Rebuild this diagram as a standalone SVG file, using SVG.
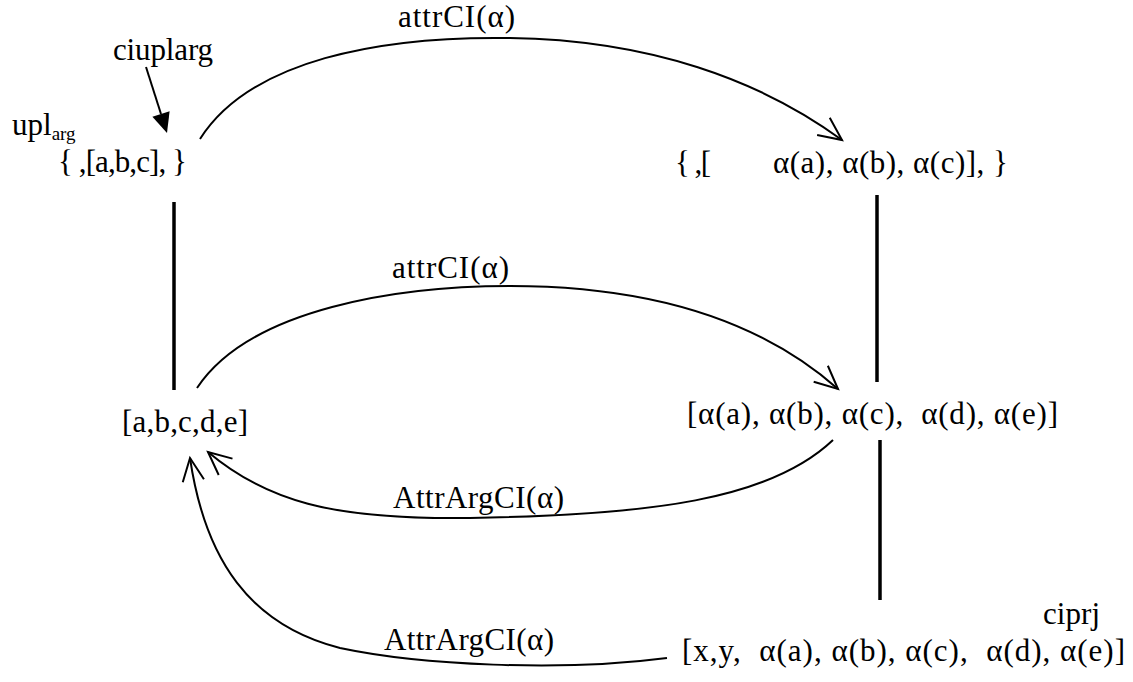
<svg xmlns="http://www.w3.org/2000/svg" width="1133" height="682" viewBox="0 0 1133 682">
<defs>
<style>
text{font-family:"Liberation Serif","Times New Roman",serif;font-size:31px;fill:#000;white-space:pre}
.sub{font-size:19px}
.bar{stroke:#000;stroke-width:3.5;fill:none}
.arc{stroke:#000;stroke-width:2;fill:none;marker-end:url(#open)}
</style>
<marker id="open" viewBox="-30 -15 34 30" markerWidth="34" markerHeight="30" markerUnits="userSpaceOnUse" refX="0" refY="0" orient="auto">
<path d="M-23,-10.7 L0,0 L-23,10.7" fill="none" stroke="#000" stroke-width="2"/>
</marker>
</defs>
<rect width="1133" height="682" fill="#fff"/>
<g id="connectors">
<line class="bar" x1="174" y1="202" x2="174" y2="390"/>
<line class="bar" x1="877" y1="195" x2="877" y2="382"/>
<line class="bar" x1="880" y1="440" x2="880" y2="600"/>
<path class="arc" d="M200,139 C250,60 380,36 510,38 C650,40 760,80 842,140"/>
<path class="arc" d="M197,388 C250,308 400,286 510,286 C650,286 760,320 838,389"/>
<path class="arc" d="M833,440 C770,500 650,515 470,518 C330,520 265,500 208,452"/>
<path class="arc" d="M667,658 C560,672 420,665 340,648 C250,625 205,560 190,458"/>
<line x1="146" y1="67" x2="161" y2="114" stroke="#000" stroke-width="2"/>
<polygon points="167,133 152.4,116.7 169.6,111.3" fill="#000"/>
</g>
<g id="labels">
<text x="398" y="27" textLength="117">attrCI(α)</text>
<text x="392" y="278" textLength="117">attrCI(α)</text>
<text x="393" y="508" textLength="171">AttrArgCI(α)</text>
<text x="384" y="650" textLength="170">AttrArgCI(α)</text>
<text x="113" y="60" textLength="100">ciuplarg</text>
<text x="1043" y="624" textLength="57">ciprj</text>
</g>
<g id="node-upl">
<text x="12" y="135">upl<tspan class="sub" dy="5">arg</tspan></text>
<text x="58" y="172" textLength="129">{ ,[a,b,c], }</text>
</g>
<g id="node-upl-mapped">
<text x="675" y="173" textLength="36">{ ,[</text>
<text x="773" y="173" textLength="235">α(a), α(b), α(c)], }</text>
</g>
<g id="node-list">
<text x="122" y="432" textLength="126">[a,b,c,d,e]</text>
</g>
<g id="node-list-mapped">
<text x="687" y="424" textLength="371">[α(a), α(b), α(c),  α(d), α(e)]</text>
</g>
<g id="node-prj">
<text x="682" y="661" textLength="443">[x,y,  α(a), α(b), α(c),  α(d), α(e)]</text>
</g>
</svg>
